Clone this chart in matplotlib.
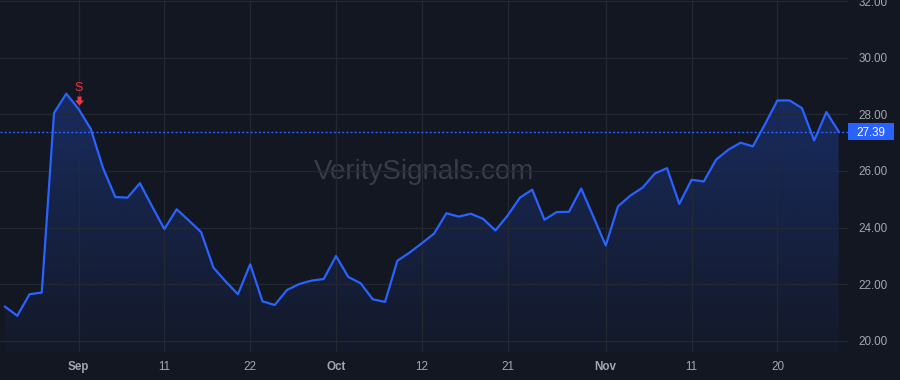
import numpy as np
import matplotlib
matplotlib.use("Agg")
import matplotlib.pyplot as plt
from matplotlib.path import Path
from matplotlib.patches import Rectangle
import matplotlib.transforms as mtrans

# ---- data ----
prices = [21.21, 20.89, 21.65, 21.71, 28.05, 28.73, 28.19, 27.48, 26.10, 25.08,
          25.06, 25.57, 24.75, 23.95, 24.65, 24.25, 23.84, 22.59, 22.10, 21.65,
          22.71, 21.40, 21.27, 21.80, 22.01, 22.13, 22.19, 23.00, 22.26, 22.04,
          21.47, 21.38, 22.83, 23.12, 23.45, 23.79, 24.51, 24.39, 24.49, 24.31,
          23.90, 24.43, 25.06, 25.34, 24.28, 24.55, 24.56, 25.38, 24.38, 23.37,
          24.75, 25.13, 25.41, 25.91, 26.10, 24.84, 25.69, 25.63, 26.40, 26.75,
          27.00, 26.87, 27.66, 28.49, 28.49, 28.22, 27.08, 28.08, 27.39]
tick_index = [6, 13, 20, 27, 34, 41, 49, 56, 63]
tick_labels = ["Sep", "11", "22", "Oct", "12", "21", "Nov", "11", "20"]
month_labels = ["Sep", "Oct", "Nov"]
y_ticks = [20, 22, 24, 26, 28, 30, 32]
last_price = 27.39
signal_index = 6
signal_label = "S"
watermark = "VeritySignals.com"

# ---- style ----
BG = "#131722"
GRID = "#242833"
BLUE = "#2962ff"
TEXT = "#a3a6af"
RED = "#f23645"
FONT = "Liberation Sans"

W, H = 900, 380
fig = plt.figure(figsize=(W / 100, H / 100), dpi=100, facecolor=BG)
ax_left, ax_right, ax_top, ax_bottom = 0, 848, 0, 352
ax = fig.add_axes([ax_left / W, (H - ax_bottom) / H, (ax_right - ax_left) / W,
                   (ax_bottom - ax_top) / H])
ax.set_facecolor(BG)

x = np.arange(len(prices))
y = np.array(prices)

px_per_unit = 28.3
XLIM = (-5 / 12.26, (848 - 5) / 12.26)
YLIM = (20 - 11 / px_per_unit, 32 + 1 / px_per_unit)
ax.set_xlim(*XLIM)
ax.set_ylim(*YLIM)

# gradient fill under line
ymin, ymax = YLIM
grad = np.linspace(0, 1, 256)
rgba = np.zeros((256, 1, 4))
rgba[..., 0] = 41 / 255
rgba[..., 1] = 98 / 255
rgba[..., 2] = 1.0
rgba[:, 0, 3] = 0.03 + 0.25 * grad
top = max(prices)
im = ax.imshow(rgba, extent=[x[0], x[-1], ymin, top], origin="lower",
               aspect="auto", zorder=1, interpolation="bilinear")
poly = ax.fill_between(x, y, ymin, facecolor="none", edgecolor="none")
clip_path = poly.get_paths()[0]
im.set_clip_path(clip_path, transform=ax.transData)
ax.set_xlim(*XLIM)
ax.set_ylim(*YLIM)

ax.plot(x, y, color=BLUE, lw=1.6, zorder=3, solid_joinstyle="round")

# last price dotted line
ax.axhline(last_price, color=BLUE, lw=1.0, linestyle=(0, (1.5, 1.5)), zorder=2)

# grid
ax.set_yticks(y_ticks)
ax.set_xticks(tick_index)
ax.grid(True, color=GRID, lw=0.9, zorder=0)
for s in ax.spines.values():
    s.set_visible(False)

ax.yaxis.tick_right()
ax.tick_params(axis="y", length=0, pad=7.5, labelsize=8.4, labelcolor=TEXT)
ax.tick_params(axis="x", length=0, pad=6.5, labelsize=8.4, labelcolor=TEXT)
ax.set_yticklabels([f"{v:.2f}" for v in y_ticks], fontfamily=FONT)
ax.set_xticklabels(tick_labels, fontfamily=FONT)
for lbl in ax.get_xticklabels():
    if lbl.get_text() in month_labels:
        lbl.set_fontweight("bold")

# price label box
bt = mtrans.blended_transform_factory(fig.transFigure, ax.transData)
box_h = 17 / px_per_unit
fig.patches.append(Rectangle((848 / W, last_price - box_h / 2), 46 / W, box_h,
                             transform=bt, facecolor=BLUE, edgecolor="none",
                             zorder=5))
fig.text(871 / W, last_price, f"{last_price:.2f}", transform=bt, color="white",
         fontsize=8.4, fontfamily=FONT, ha="center", va="center_baseline", zorder=6)

# watermark
ax.text(0.5, 0.51, watermark, transform=ax.transAxes, ha="center", va="center",
        fontsize=20, color="#383c48", fontfamily=FONT, zorder=0.5)

# sell signal marker
arrow = Path([(-2, 13), (2, 13), (2, 9), (4.6, 9), (0, 4), (-4.6, 9), (-2, 9), (-2, 13)],
             [Path.MOVETO] + [Path.LINETO] * 6 + [Path.CLOSEPOLY])
ax.plot([signal_index], [prices[signal_index]], marker=arrow, markersize=26 * 0.72,
        color=RED, markeredgewidth=0, linestyle="none", zorder=6, clip_on=False)
ax.annotate(signal_label, xy=(signal_index, prices[signal_index]), xytext=(0, 21),
            textcoords="offset pixels", ha="center", va="center", color=RED,
            fontsize=9, fontfamily=FONT, zorder=6, annotation_clip=False)

fig.savefig("out.png", dpi=100, facecolor=BG)
